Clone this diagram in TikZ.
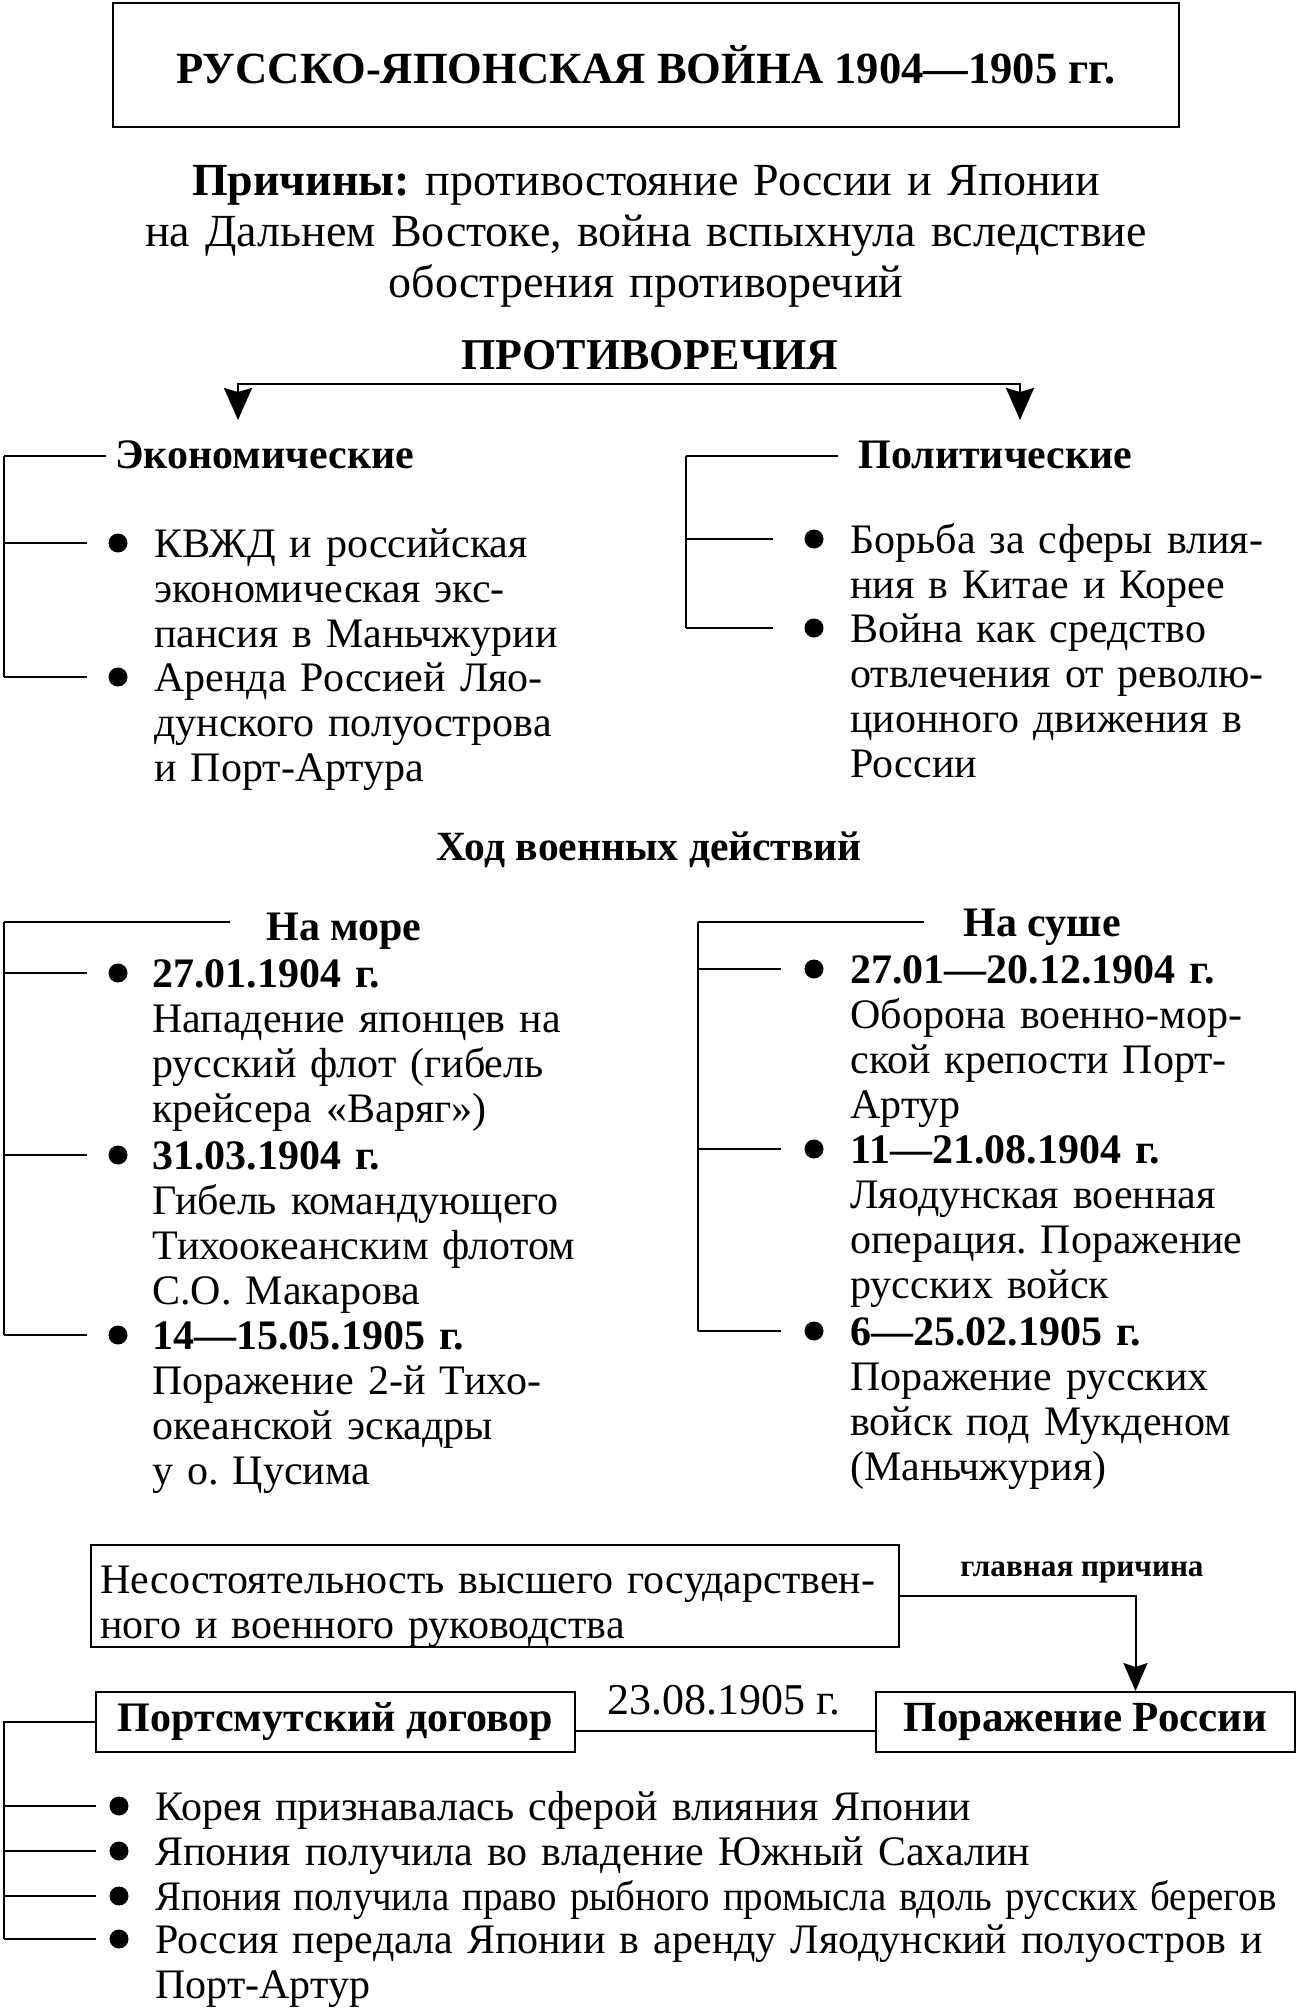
\documentclass[tikz,border=0pt]{standalone}
\usepackage{fontspec}
\setmainfont{Liberation Serif}
\usetikzlibrary{arrows.meta, positioning, calc}
\frenchspacing

\begin{document}
\begin{tikzpicture}[x=0.5pt, y=-0.5pt,
    txt/.style={anchor=base west, inner sep=0, align=left, text width=240pt, font=\fontsize{21}{22.5}\selectfont},
    head/.style={inner sep=0, font=\fontsize{21}{24}\selectfont\bfseries},
    dot/.style={circle, fill=black, inner sep=0, minimum size=9.5pt},
    brk/.style={line width=0.9pt},
    box/.style={draw, line width=1pt, inner sep=0},
    arr/.style={line width=1.1pt, -{Stealth[length=16pt, width=14pt, inset=2pt]}},
    arrS/.style={line width=1pt, -{Stealth[length=14pt, width=12pt, inset=2pt]}}]
    \useasboundingbox (0,0) rectangle (1298,2008);

    % Title box
    \node[box, minimum width=533pt, minimum height=62pt, font=\fontsize{22.3}{26}\selectfont\bfseries] (title) at (646,65) {РУССКО-ЯПОНСКАЯ ВОЙНА 1904—1905 гг.};

    % Causes
    \node[anchor=base, inner sep=0, align=center, text width=560pt, font=\fontsize{23}{25.5}\selectfont] (causes) at (646,195)
        {\textbf{Причины:} противостояние России и Японии\\на Дальнем Востоке, война вспыхнула вследствие\\обострения противоречий};

    % Contradictions and the two arrows
    \node[head, font=\fontsize{22}{26}\selectfont\bfseries] (contra) at (650,355) {ПРОТИВОРЕЧИЯ};
    \coordinate (fork) at (650,384);
    \coordinate (ecoTip) at (238,420);
    \coordinate (polTip) at (1020,420);
    \draw[arr] (fork) -| (ecoTip);
    \draw[arr] (fork) -| (polTip);

    % Economic
    \node[head, anchor=base west] (ecoHead) at (115,468) {Экономические};
    \node[dot] (ecoDot1) at (118,543) {};
    \node[dot] (ecoDot2) at (118,677) {};
    \node[txt] (eco1) at (154,557) {КВЖД и российская\\экономическая экс-\\пансия в Маньчжурии};
    \node[txt] (eco2) at (154,691) {Аренда Россией Ляо-\\дунского полуострова\\и Порт-Артура};
    \coordinate (ecoBar) at (4,456);
    \draw[brk, shorten >=4.5pt] (ecoBar) -- (ecoBar -| ecoHead.west);
    \draw[brk] (ecoBar) -- (ecoBar |- ecoDot2);
    \foreach \d in {ecoDot1, ecoDot2}
        \draw[brk, shorten >=10.75pt] (ecoBar |- \d) -- (\d);

    % Political
    \node[head, anchor=base west] (polHead) at (858,468) {Политические};
    \node[dot] (polDot1) at (814,539) {};
    \node[dot] (polDot2) at (814,628) {};
    \node[txt] (pol1) at (850,553) {Борьба за сферы влия-\\ния в Китае и Корее};
    \node[txt] (pol2) at (850,642) {Война как средство\\отвлечения от револю-\\ционного движения в\\России};
    \coordinate (polBar) at (686,456);
    \draw[brk, shorten >=10pt] (polBar) -- (polBar -| polHead.west);
    \draw[brk] (polBar) -- (polBar |- polDot2);
    \foreach \d in {polDot1, polDot2}
        \draw[brk, shorten >=15.75pt] (polBar |- \d) -- (\d);

    % Course of the war
    \node[head, font=\fontsize{20.8}{24}\selectfont\bfseries] (course) at (649,850) {Ход военных действий};

    % At sea
    \node[head, anchor=base west] (seaHead) at (266,940) {На море};
    \node[dot] (seaDot1) at (118,973) {};
    \node[dot] (seaDot2) at (118,1155) {};
    \node[dot] (seaDot3) at (118,1335) {};
    \node[txt] (sea1) at (152,987) {\textbf{27.01.1904 г.}\\Нападение японцев на\\русский флот (гибель\\крейсера «Варяг»)};
    \node[txt] (sea2) at (152,1169) {\textbf{31.03.1904 г.}\\Гибель командующего\\Тихоокеанским флотом\\С.О. Макарова};
    \node[txt] (sea3) at (152,1349) {\textbf{14—15.05.1905 г.}\\Поражение 2-й Тихо-\\океанской эскадры\\у о. Цусима};
    \coordinate (seaBar) at (4,922);
    \draw[brk, shorten >=18pt] (seaBar) -- (seaBar -| seaHead.west);
    \draw[brk] (seaBar) -- (seaBar |- seaDot3);
    \foreach \d in {seaDot1, seaDot2, seaDot3}
        \draw[brk, shorten >=10.75pt] (seaBar |- \d) -- (\d);

    % On land
    \node[head, anchor=base west] (landHead) at (963,936) {На суше};
    \node[dot] (landDot1) at (814,969) {};
    \node[dot] (landDot2) at (814,1149) {};
    \node[dot] (landDot3) at (814,1331) {};
    \node[txt] (land1) at (850,983) {\textbf{27.01—20.12.1904 г.}\\Оборона военно-мор-\\ской крепости Порт-\\Артур};
    \node[txt] (land2) at (850,1163) {\textbf{11—21.08.1904 г.}\\Ляодунская военная\\операция. Поражение\\русских войск};
    \node[txt] (land3) at (850,1345) {\textbf{6—25.02.1905 г.}\\Поражение русских\\войск под Мукденом\\(Маньчжурия)};
    \coordinate (landBar) at (698,922);
    \draw[brk, shorten >=19.5pt] (landBar) -- (landBar -| landHead.west);
    \draw[brk] (landBar) -- (landBar |- landDot3);
    \foreach \d in {landDot1, landDot2, landDot3}
        \draw[brk, shorten >=11.75pt] (landBar |- \d) -- (\d);

    % Main cause
    \node[box, minimum width=404pt, minimum height=51pt] (cause) at (495,1596) {};
    \node[txt, text width=400pt] (causeTxt) at (100,1593) {Несостоятельность высшего государствен-\\ного и военного руководства};
    \node[inner sep=0, font=\fontsize{15.6}{18}\selectfont\bfseries] (mainLbl) at (1082,1572) {главная причина};

    % Treaty and defeat
    \node[box, minimum width=239.5pt, minimum height=30pt, font=\fontsize{21}{24}\selectfont\bfseries] (treaty) at (335.5,1722) {Портсмутский договор};
    \node[box, minimum width=209.5pt, minimum height=30pt, font=\fontsize{21.5}{24}\selectfont\bfseries] (defeat) at (1085.5,1722) {Поражение России};
    \node[inner sep=0, font=\fontsize{22}{26}\selectfont] (date) at (724,1700) {23.08.1905 г.};
    \draw[brk] ([yshift=-4.5pt]treaty.east) -- ([yshift=-4.5pt]defeat.west);
    \draw[arrS] (cause.east) -| ([xshift=25pt]defeat.north);

    % Treaty terms
    \node[dot] (resDot1) at (119,1806) {};
    \node[dot] (resDot2) at (119,1851) {};
    \node[dot] (resDot3) at (119,1896) {};
    \node[dot] (resDot4) at (119,1939) {};
    \node[txt, text width=600pt] (res1) at (155,1820) {Корея признавалась сферой влияния Японии};
    \node[txt, text width=600pt] (res2) at (155,1865) {Япония получила во владение Южный Сахалин};
    \node[txt, text width=600pt] (res3) at (155,1910) {\scalebox{0.925}[1]{Япония получила право рыбного промысла вдоль русских берегов}};
    \node[txt, text width=600pt] (res4) at (155,1953) {Россия передала Японии в аренду Ляодунский полуостров и\\Порт-Артур};
    \coordinate (resBar) at (4,1722);
    \draw[brk] (treaty.west) -- (resBar) -- (resBar |- resDot4);
    \foreach \d in {resDot1, resDot2, resDot3, resDot4}
        \draw[brk, shorten >=6.75pt] (resBar |- \d) -- (\d);
\end{tikzpicture}
\end{document}
